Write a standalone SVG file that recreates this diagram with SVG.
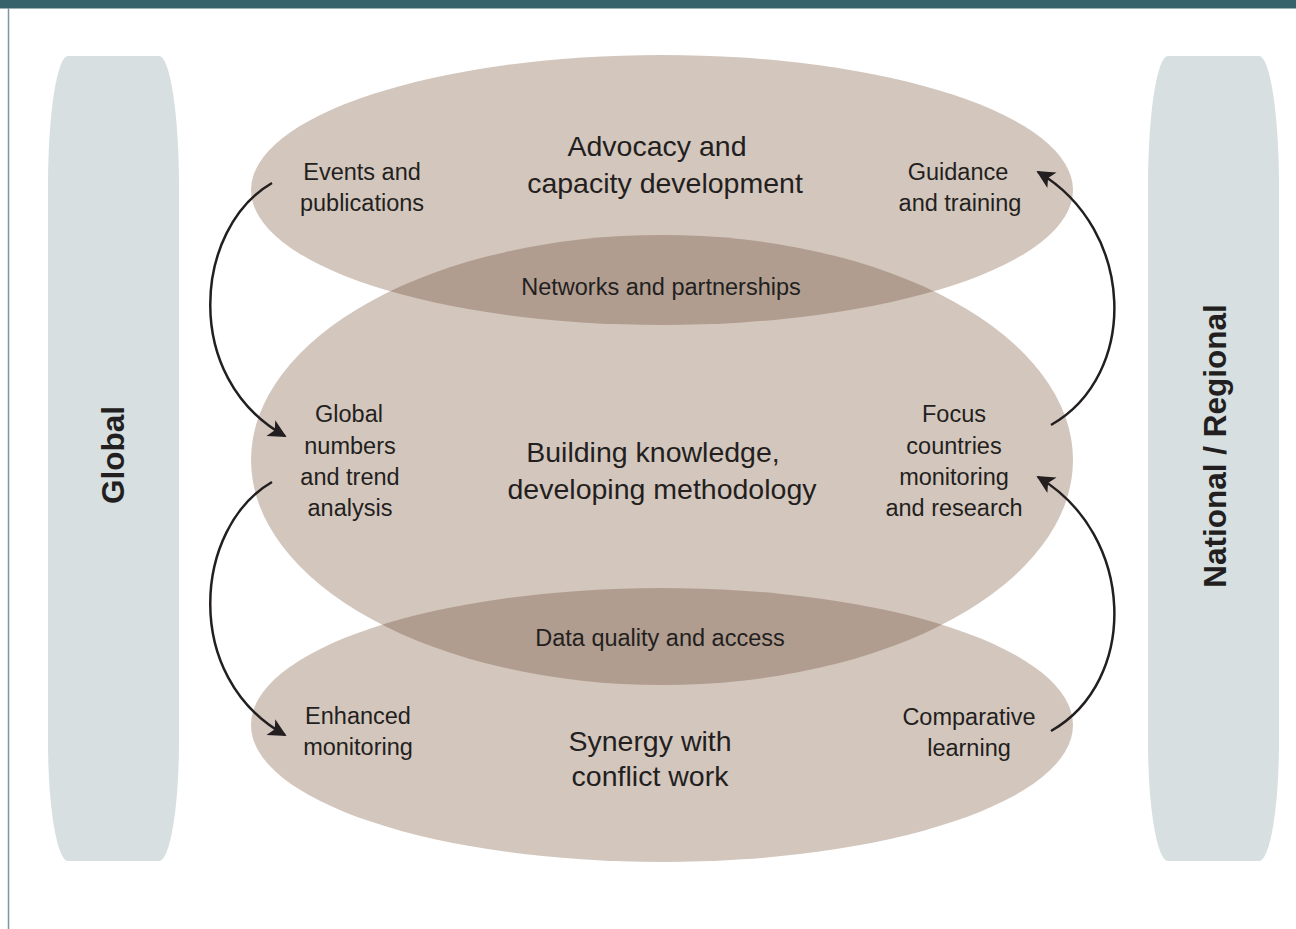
<svg xmlns="http://www.w3.org/2000/svg" width="1296" height="929" viewBox="0 0 1296 929">
<style>
  .pill { fill: #d7dfe1; }
  .ell { fill: #d3c6bd; }
  .lens { fill: #b09d8f; }
  .t { font-family: "Liberation Sans", Arial, sans-serif; fill: #231f20; text-anchor: middle; }
  .s { font-size: 23.5px; }
  .m { font-size: 28.5px; }
  .v { font-size: 31.5px; font-weight: bold; }
  .arr { fill: none; stroke: #231f20; stroke-width: 2.5; marker-end: url(#ah); }
</style>
<defs>
  <marker id="ah" viewBox="0 0 10 10" refX="9" refY="5" markerUnits="userSpaceOnUse" markerWidth="23" markerHeight="18" orient="auto">
    <path d="M0,0 L10,5 L0,10 L2.5,5 Z" fill="#231f20"/>
  </marker>
  <clipPath id="cTop"><ellipse cx="662" cy="190" rx="411" ry="135"/></clipPath>
  <clipPath id="cBot"><ellipse cx="662" cy="725" rx="411" ry="137"/></clipPath>
</defs>
<rect x="0" y="0" width="1296" height="929" fill="#ffffff"/>
<rect x="0" y="0" width="1296" height="8.5" fill="#36626b"/>
<line x1="8.5" y1="8" x2="8.5" y2="929" stroke="#7d979c" stroke-width="1.5"/>

<g id="global-band">
  <path class="pill" d="M68,56 H159 A20,130 0 0 1 179,186 V741 A20,120 0 0 1 159,861 H68 A20,120 0 0 1 48,741 V186 A20,130 0 0 1 68,56 Z"/>
  <text class="t v" transform="translate(124,455) rotate(-90)">Global</text>
</g>
<g id="national-band">
  <path class="pill" d="M1168,56 H1259 A20,130 0 0 1 1279,186 V741 A20,120 0 0 1 1259,861 H1168 A20,120 0 0 1 1148,741 V186 A20,130 0 0 1 1168,56 Z"/>
  <text class="t v" transform="translate(1226,446) rotate(-90)">National / Regional</text>
</g>

<g id="advocacy">
  <ellipse class="ell" cx="662" cy="190" rx="411" ry="135"/>
</g>
<g id="knowledge">
  <ellipse class="ell" cx="662" cy="460" rx="411" ry="225"/>
</g>
<g id="synergy">
  <ellipse class="ell" cx="662" cy="725" rx="411" ry="137"/>
</g>
<g id="networks">
  <ellipse class="lens" cx="662" cy="460" rx="411" ry="225" clip-path="url(#cTop)"/>
  <text class="t s" x="661" y="295">Networks and partnerships</text>
</g>
<g id="data-quality">
  <ellipse class="lens" cx="662" cy="460" rx="411" ry="225" clip-path="url(#cBot)"/>
  <text class="t s" x="660" y="646">Data quality and access</text>
</g>

<g id="advocacy-labels">
  <text class="t m" x="657" y="156">Advocacy and</text>
  <text class="t m" x="665" y="193">capacity development</text>
</g>
<g id="events">
  <text class="t s" x="362" y="180">Events and</text>
  <text class="t s" x="362" y="211">publications</text>
</g>
<g id="guidance">
  <text class="t s" x="958" y="180">Guidance</text>
  <text class="t s" x="960" y="211">and training</text>
</g>
<g id="knowledge-labels">
  <text class="t m" x="653" y="462">Building knowledge,</text>
  <text class="t m" x="662" y="499">developing methodology</text>
</g>
<g id="global-numbers">
  <text class="t s" x="349" y="422">Global</text>
  <text class="t s" x="350" y="454">numbers</text>
  <text class="t s" x="350" y="485">and trend</text>
  <text class="t s" x="350" y="516">analysis</text>
</g>
<g id="focus-countries">
  <text class="t s" x="954" y="422">Focus</text>
  <text class="t s" x="954" y="454">countries</text>
  <text class="t s" x="954" y="485">monitoring</text>
  <text class="t s" x="954" y="516">and research</text>
</g>
<g id="synergy-labels">
  <text class="t m" x="650" y="751">Synergy with</text>
  <text class="t m" x="650" y="786">conflict work</text>
</g>
<g id="enhanced">
  <text class="t s" x="358" y="724">Enhanced</text>
  <text class="t s" x="358" y="755">monitoring</text>
</g>
<g id="comparative">
  <text class="t s" x="969" y="725">Comparative</text>
  <text class="t s" x="969" y="756">learning</text>
</g>

<g id="connectors">
  <path class="arr" d="M272,183 C194,228 181,378 285,436"/>
  <path class="arr" d="M272,482 C194,527 181,677 285,735"/>
  <path class="arr" d="M1051,425 C1139,375 1136,230 1038,172"/>
  <path class="arr" d="M1051,731 C1139,681 1136,535 1038,477"/>
</g>
</svg>
